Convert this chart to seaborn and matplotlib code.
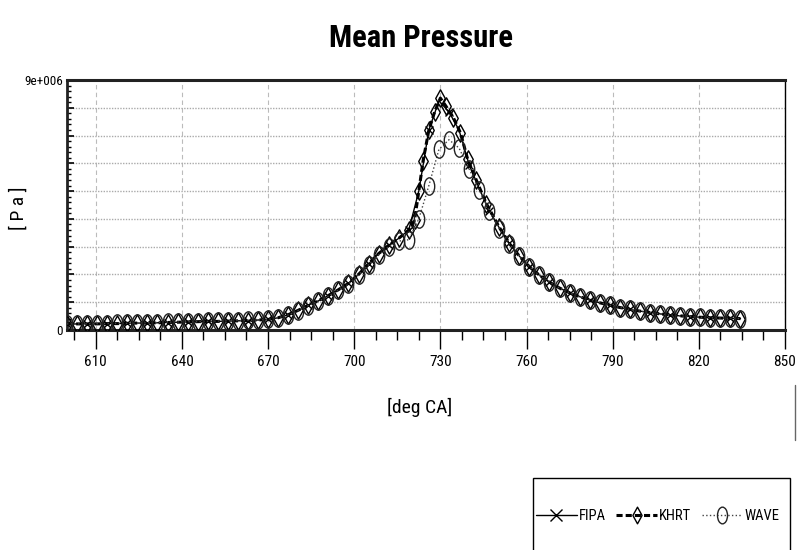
import numpy as np
import pandas as pd
import matplotlib
matplotlib.use("Agg")
import matplotlib.pyplot as plt
import seaborn as sns
from matplotlib.path import Path
from matplotlib.lines import Line2D
from matplotlib.patches import Rectangle
from matplotlib import font_manager
from matplotlib.ticker import FixedLocator, FuncFormatter

# ---------------- data (pressure in 1e6 Pa) ----------------
angle = np.arange(600.0, 835.0, 3.5)  # crank angle grid [deg CA]

wave = [0.22, 0.22, 0.22, 0.23, 0.23, 0.24, 0.24, 0.25, 0.26, 0.27,
        0.28, 0.29, 0.30, 0.30, 0.31, 0.32, 0.33, 0.34, 0.35, 0.36,
        0.38, 0.44, 0.54, 0.70, 0.88, 1.03, 1.22, 1.43, 1.65, 1.98,
        2.35, 2.70, 3.00, 3.20, 3.25, 4.00, 5.20, 6.50, 6.85, 6.55,
        5.80, 5.05, 4.30, 3.65, 3.10, 2.65, 2.28, 1.97, 1.72, 1.51,
        1.34, 1.20, 1.08, 0.98, 0.89, 0.81, 0.74, 0.68, 0.63, 0.58,
        0.54, 0.51, 0.48, 0.46, 0.44, 0.43, 0.42, 0.41]

khrt_peak_angle = [721.0, 722.5, 724.0, 726.0, 728.0, 730.0, 732.0,
                   734.5, 737.0, 739.5, 742.5, 746.0]
khrt_angle = np.concatenate([angle[:35], khrt_peak_angle, angle[43:]])
khrt = [0.21, 0.22, 0.22, 0.22, 0.23, 0.23, 0.24, 0.25, 0.25, 0.26,
        0.27, 0.28, 0.29, 0.30, 0.31, 0.31, 0.32, 0.33, 0.34, 0.36,
        0.38, 0.44, 0.55, 0.71, 0.89, 1.05, 1.24, 1.45, 1.68, 2.00,
        2.38, 2.75, 3.05, 3.30, 3.60,
        3.95, 5.00, 6.10, 7.20, 7.85, 8.35, 8.05, 7.65, 7.10, 6.15,
        5.40, 4.55,
        3.70, 3.12, 2.66, 2.28, 1.97, 1.72, 1.51, 1.34, 1.20, 1.08,
        0.98, 0.89, 0.81, 0.74, 0.68, 0.63, 0.58, 0.54, 0.51, 0.48,
        0.46, 0.44, 0.43, 0.42, 0.41]

fipa = [0.21, 0.22, 0.22, 0.22, 0.23, 0.23, 0.24, 0.25, 0.25, 0.26,
        0.27, 0.28, 0.29, 0.30, 0.31, 0.31, 0.32, 0.33, 0.34, 0.36,
        0.38, 0.44, 0.55, 0.71, 0.89, 1.05, 1.24, 1.45, 1.68, 2.00,
        2.38, 2.75, 3.05, 3.30, 3.60, 5.00, 7.20, 8.25, 7.85, 7.20,
        5.95, 5.10, 4.30, 3.68, 3.12, 2.66, 2.28, 1.97, 1.72, 1.51,
        1.34, 1.20, 1.08, 0.98, 0.89, 0.81, 0.74, 0.68, 0.63, 0.58,
        0.54, 0.51, 0.48, 0.46, 0.44, 0.43, 0.42, 0.41]

series_names = ["FIPA", "KHRT", "WAVE"]
x_major = [610, 640, 670, 700, 730, 760, 790, 820, 850]
y_tick_labels = {0: "0", 9: "9e+006"}

PA = 1e6
wave_pa = np.array(wave) * PA
khrt_pa = np.array(khrt) * PA
fipa_pa = np.array(fipa) * PA

# ---------------- fonts ----------------
ttf = font_manager.fontManager.ttflist
names = {f.name for f in ttf}
family = None
stretch = "normal"
for cand in ["Liberation Sans Narrow", "Roboto Condensed", "Open Sans Condensed",
             "Noto Sans Condensed", "DejaVu Sans Condensed"]:
    if cand in names:
        family = cand
        break
if family is None:
    extra = sorted(n for n in names if ("narrow" in n.lower() or "condensed" in n.lower()))
    if extra:
        family = extra[0]
if family is None:
    if any(f.name == "DejaVu Sans" and str(f.stretch) in ("condensed", "semi-condensed", "75", "87")
           for f in ttf):
        family = "DejaVu Sans"
        stretch = "condensed"
    else:
        family = "Liberation Sans"
is_narrow = (family != "Liberation Sans")

sns.set_theme(style="white")
plt.rcParams["font.family"] = [family, "DejaVu Sans"]
plt.rcParams["font.stretch"] = stretch
plt.rcParams["text.color"] = "black"
plt.rcParams["axes.labelcolor"] = "black"
plt.rcParams["xtick.color"] = "black"
plt.rcParams["ytick.color"] = "black"

k = 1.0 if is_narrow else 0.85  # shrink text a bit if no narrow font

circ = Path.unit_circle()
ellipse = Path(circ.vertices * np.array([0.6, 1.0]), circ.codes)
diamond = Path([(0, 1), (0.55, 0), (0, -1), (-0.55, 0), (0, 1)],
               [Path.MOVETO, Path.LINETO, Path.LINETO, Path.LINETO, Path.CLOSEPOLY])

fig = plt.figure(figsize=(7.97, 5.5), dpi=100)
ax = fig.add_axes([67 / 797, 1 - 330 / 550, 718 / 797, 250 / 550])

MS = 12.5
sns.lineplot(x=angle, y=fipa_pa, ax=ax, color="black", linewidth=1.0,
             marker="x", markersize=6, markeredgecolor="black",
             markeredgewidth=1.0, markevery=2, zorder=3)
sns.lineplot(x=khrt_angle, y=khrt_pa, ax=ax, color="black", linewidth=2.2,
             dashes=(2, 1), marker=diamond, markersize=MS,
             markerfacecolor="none", markeredgecolor="black",
             markeredgewidth=1.0, zorder=4)
sns.lineplot(x=angle, y=wave_pa, ax=ax, color="#444444", linewidth=1.0,
             linestyle=":", marker=ellipse, markersize=MS,
             markerfacecolor="none", markeredgecolor="#222222",
             markeredgewidth=1.0, zorder=5)

ax.set_xlim(600, 850)
ax.set_ylim(0, 9 * PA)

# x ticks
ax.xaxis.set_major_locator(FixedLocator(x_major))
ax.xaxis.set_minor_locator(FixedLocator(np.arange(602.5, 850, 7.5)))
ax.set_xticklabels([str(v) for v in x_major])
ax.tick_params(axis="x", which="major", direction="out", length=14, width=1,
               pad=4, labelsize=11 * k, bottom=True)
ax.tick_params(axis="x", which="minor", direction="out", length=7, width=1,
               bottom=True)

# y ticks
ax.yaxis.set_major_locator(FixedLocator(np.arange(0, 9.5, 1) * PA))
ax.yaxis.set_minor_locator(FixedLocator(np.arange(0, 9.01, 0.2) * PA))
ax.yaxis.set_major_formatter(FuncFormatter(
    lambda v, p: y_tick_labels.get(int(round(v / PA)), "")))
ax.tick_params(axis="y", which="major", direction="in", length=5, width=1.2,
               pad=3, labelsize=9.5 * k, left=True)
ax.tick_params(axis="y", which="minor", direction="in", length=3, width=1,
               left=True)

# grid
ax.grid(False)
ax.yaxis.grid(True, which="major", color="#aaaaaa", linestyle=(0, (1, 1)), linewidth=1.0)
ax.xaxis.grid(True, which="major", color="#bbbbbb", linestyle=(0, (4, 3)), linewidth=0.8)
ax.set_axisbelow(True)

# spines
for side, lw in [("top", 2.2), ("bottom", 2.2), ("left", 2.0), ("right", 1.0)]:
    ax.spines[side].set_visible(True)
    ax.spines[side].set_color("#222222" if side != "right" else "black")
    ax.spines[side].set_linewidth(lw)

# labels
ax.set_xlabel("[deg CA]", fontsize=14 * k)
ax.xaxis.set_label_coords((420 - 67) / 718, (330 - 398) / 250)
ax.set_ylabel("[ P a ]", fontsize=14 * k)
ax.yaxis.set_label_coords((28 - 67) / 718, (330 - 208) / 250)
fig.text(421 / 797, 1 - 38 / 550, "Mean Pressure", ha="center", va="center",
         fontsize=(22 if is_narrow else 19), fontweight="bold")

# legend
handles = [
    Line2D([], [], color="black", linewidth=1.0, marker="x", markersize=9,
           markeredgewidth=1.0),
    Line2D([], [], color="black", linewidth=2.2, dashes=(2, 1), marker=diamond,
           markersize=12, markerfacecolor="none", markeredgecolor="black",
           markeredgewidth=1.0),
    Line2D([], [], color="#444444", linewidth=1.0, linestyle=":", marker=ellipse,
           markersize=12, markerfacecolor="none", markeredgecolor="#222222",
           markeredgewidth=1.0),
]
fig.legend(handles, series_names, loc="center left",
           bbox_to_anchor=(536 / 797, 1 - 516 / 550), ncol=3, frameon=False,
           handlelength=2.8, handletextpad=0.15, columnspacing=0.7,
           fontsize=10.5 * (1.0 if is_narrow else 0.88),
           borderaxespad=0, borderpad=0)
fig.patches.append(Rectangle((533 / 797, -0.05), (790 - 533) / 797,
                             (550 - 478) / 550 + 0.05, transform=fig.transFigure,
                             fill=False, edgecolor="black", linewidth=1.0))
fig.lines.append(Line2D([795 / 797, 795 / 797], [1 - 385 / 550, 1 - 440 / 550],
                        transform=fig.transFigure, color="#666666", linewidth=1.0))

fig.savefig("out.png", dpi=100)
